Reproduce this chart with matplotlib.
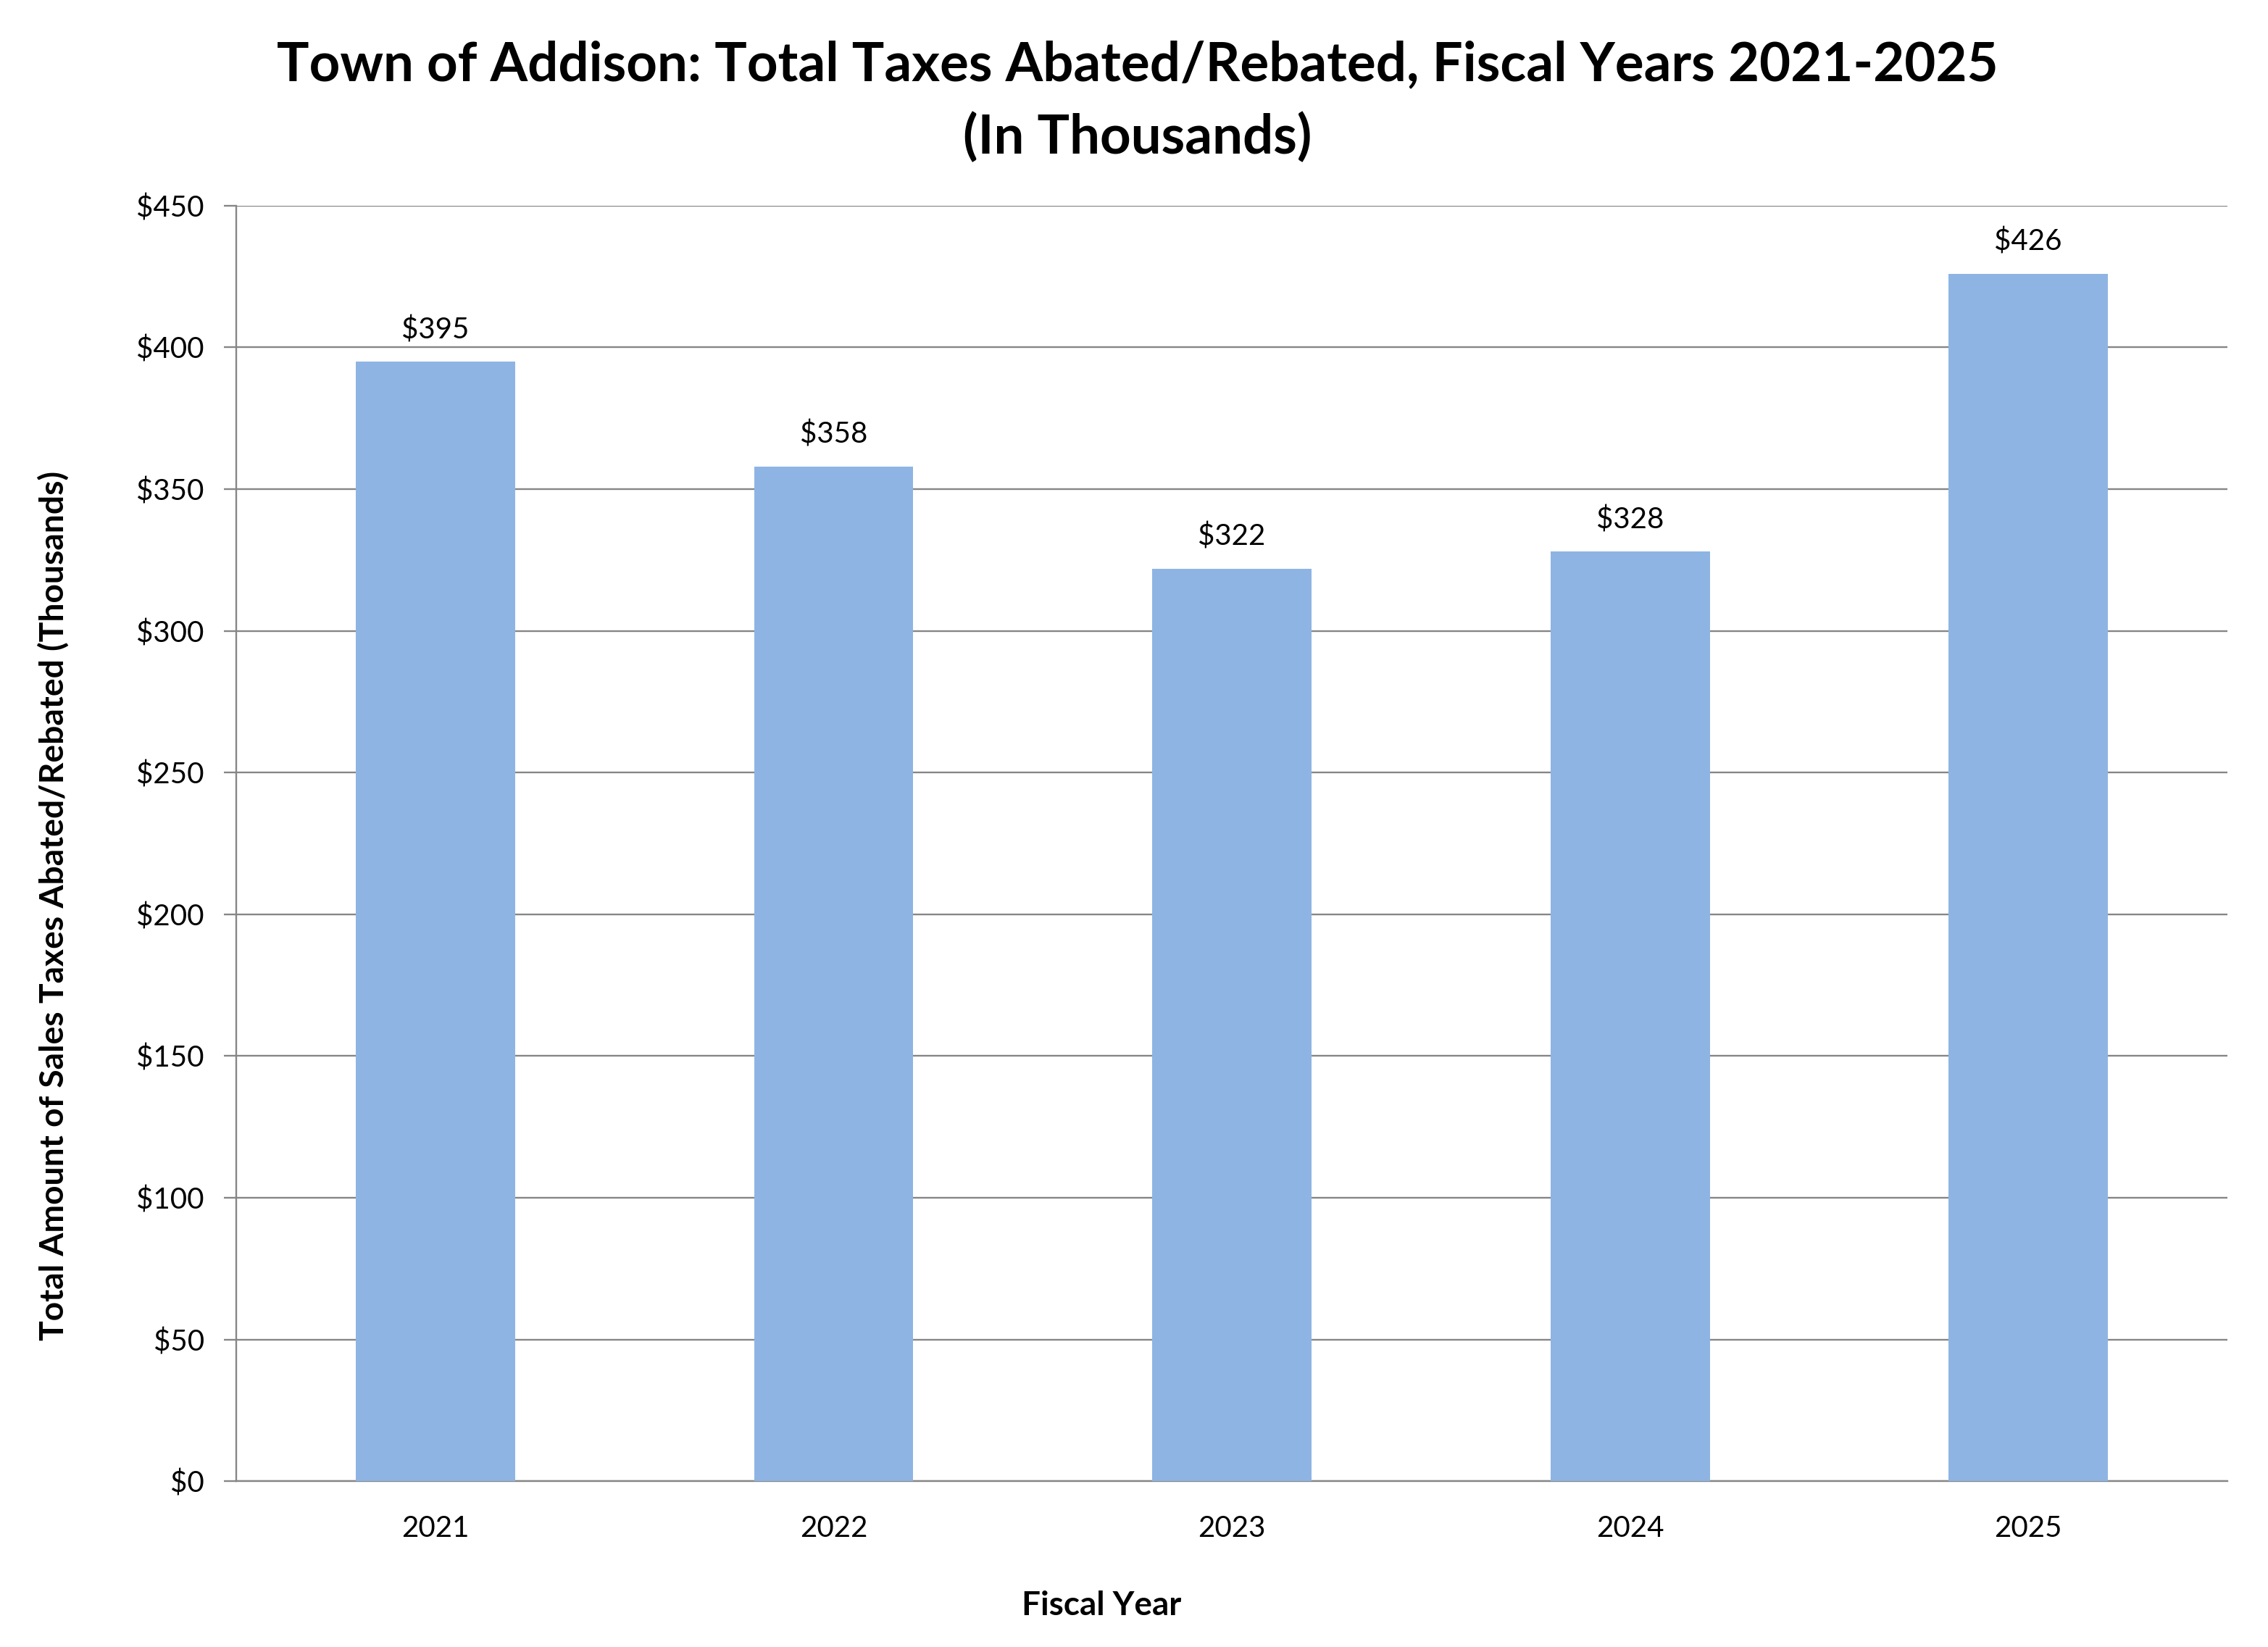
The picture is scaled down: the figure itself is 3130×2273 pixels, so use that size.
import matplotlib
matplotlib.use("Agg")
import matplotlib.pyplot as plt

years = ["2021", "2022", "2023", "2024", "2025"]
values = [395, 358, 322, 328, 426]
yticks = [0, 50, 100, 150, 200, 250, 300, 350, 400, 450]

plt.rcParams['font.family'] = ['Lato', 'DejaVu Sans']

fig = plt.figure(figsize=(15.65, 11.365), dpi=200)
ax = fig.add_axes([0.1042, 0.1007, 0.9821 - 0.1042, 0.8751 - 0.1007])

grid_c = "#868686"
bar_c = "#8EB4E3"

x = list(range(len(years)))
bars = ax.bar(x, values, width=0.4, color=bar_c, zorder=3)

for xi, v in zip(x, values):
    ax.annotate(f"${v}", (xi, v), xytext=(0, 9), textcoords="offset points",
                ha="center", va="bottom", fontsize=14.5, color="black")

ax.set_xlim(-0.5, 4.5)
ax.set_ylim(0, 450)
ax.set_yticks(yticks)
ax.set_yticklabels([f"${t}" for t in yticks])
ax.set_xticks(x)
ax.set_xticklabels(years)

ax.yaxis.grid(True, color=grid_c, linewidth=0.85, zorder=0)
ax.set_axisbelow(True)
for s in ["top", "right"]:
    ax.spines[s].set_visible(False)
for s in ["left", "bottom"]:
    ax.spines[s].set_color(grid_c)
    ax.spines[s].set_linewidth(0.85)

ax.tick_params(axis="y", length=6, width=0.85, color=grid_c, pad=10, labelsize=14.5)
ax.tick_params(axis="x", length=0, pad=17, labelsize=14.5)

fig.text(0.5016, 0.9605, "Town of Addison: Total Taxes Abated/Rebated, Fiscal Years 2021-2025",
         ha="center", va="center", fontsize=26.8, fontweight="bold")
fig.text(0.5016, 0.9165, "(In Thousands)", ha="center", va="center",
         fontsize=26.8, fontweight="bold")
fig.text(0.0236, 0.45, "Total Amount of Sales Taxes Abated/Rebated (Thousands)",
         rotation=90, ha="center", va="center", fontsize=16.6, fontweight="bold")
fig.text(0.4856, 0.025, "Fiscal Year", ha="center", va="center",
         fontsize=16.5, fontweight="bold")

fig.savefig("out.png", dpi=200, facecolor="white")
